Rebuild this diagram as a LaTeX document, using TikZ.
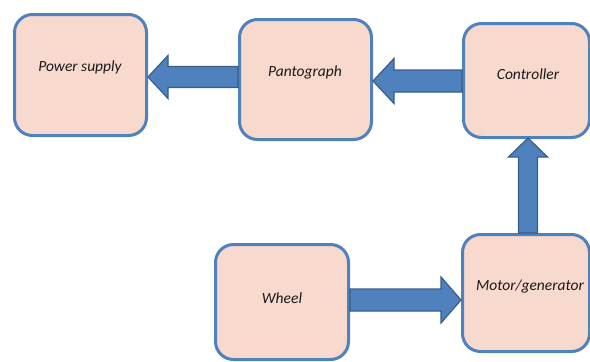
\documentclass[tikz,border=0pt]{standalone}
\usepackage{fontspec}
\setmainfont{Carlito}
\usetikzlibrary{calc}
\definecolor{boxfill}{RGB}{248,217,206}
\definecolor{boxline}{RGB}{79,129,189}
\definecolor{arrfill}{RGB}{79,129,189}
\definecolor{arrline}{RGB}{56,93,138}
\begin{document}
\begin{tikzpicture}[x=1pt,y=-1pt,
 blockbox/.style={draw=boxline, fill=boxfill, line width=3pt, rounded corners=18pt, inner sep=0pt},
 lbl/.style={font=\fontsize{15.5}{18}\selectfont\itshape, text=black!90, inner sep=0pt},
 blockarrow/.style={fill=arrfill, draw=arrline, line width=1.2pt, line join=miter}]
\useasboundingbox (0,0) rectangle (590,362);
\clip (0,0) rectangle (590,362);
% boxes
\node[blockbox, minimum width=132pt, minimum height=121pt] (ps) at (80.5,75) {};
\node[blockbox, minimum width=132pt, minimum height=120pt] (pg) at (305.5,79.5) {};
\node[blockbox, minimum width=126pt, minimum height=114pt] (ctrl) at (526.5,80.5) {};
\node[blockbox, minimum width=127pt, minimum height=117pt] (motor) at (526,293) {};
\node[blockbox, minimum width=133pt, minimum height=115pt] (wheel) at (282,302) {};
% labels
\node[lbl] (tps) at (80,67) {Power supply};
\node[lbl] (tpg) at (305,72) {Pantograph};
\node[lbl] (tctrl) at (528,74) {Controller};
\node[lbl] (tmotor) at (530,287) {Motor/generator};
\node[lbl] (twheel) at (282,298) {Wheel};
% arrow 1: pantograph -> power supply
\coordinate (t1) at ($(ps.east)+(0,2)$);
\coordinate (h1) at ($(t1)+(20,0)$);
\coordinate (a1) at ($(t1)+(0,-10.5)$);
\coordinate (b1) at ($(t1)+(0,10.5)$);
\draw[blockarrow] (t1) -- ++(20,-21.5) -- (a1 -| h1) -- (a1 -| pg.west) -- (b1 -| pg.west) -- (b1 -| h1) -- ++(0,11) -- cycle;
% arrow 2: controller -> pantograph
\coordinate (t2) at ($(pg.east)+(0,1.5)$);
\coordinate (h2) at ($(t2)+(21,0)$);
\coordinate (a2) at ($(t2)+(0,-11)$);
\coordinate (b2) at ($(t2)+(0,11)$);
\draw[blockarrow] (t2) -- ++(21,-22.5) -- (a2 -| h2) -- (a2 -| ctrl.west) -- (b2 -| ctrl.west) -- (b2 -| h2) -- ++(0,11.5) -- cycle;
% arrow 3: motor/generator -> controller
\coordinate (t3) at ($(ctrl.south)+(1.5,-1)$);
\coordinate (h3) at ($(t3)+(0,19)$);
\coordinate (a3) at ($(t3)+(-9.5,0)$);
\coordinate (b3) at ($(t3)+(9.5,0)$);
\draw[blockarrow] (t3) -- ++(-19.5,19) -- (a3 |- h3) -- (a3 |- motor.north) -- (b3 |- motor.north) -- (b3 |- h3) -- ++(10,0) -- cycle;
% arrow 4: wheel -> motor/generator
\coordinate (t4) at ($(motor.west)+(0,7)$);
\coordinate (h4) at ($(t4)+(-20,0)$);
\coordinate (a4) at ($(t4)+(0,-11)$);
\coordinate (b4) at ($(t4)+(0,11)$);
\draw[blockarrow] (t4) -- ++(-20,-23) -- (a4 -| h4) -- (a4 -| wheel.east) -- (b4 -| wheel.east) -- (b4 -| h4) -- ++(0,12) -- cycle;
\end{tikzpicture}
\end{document}
